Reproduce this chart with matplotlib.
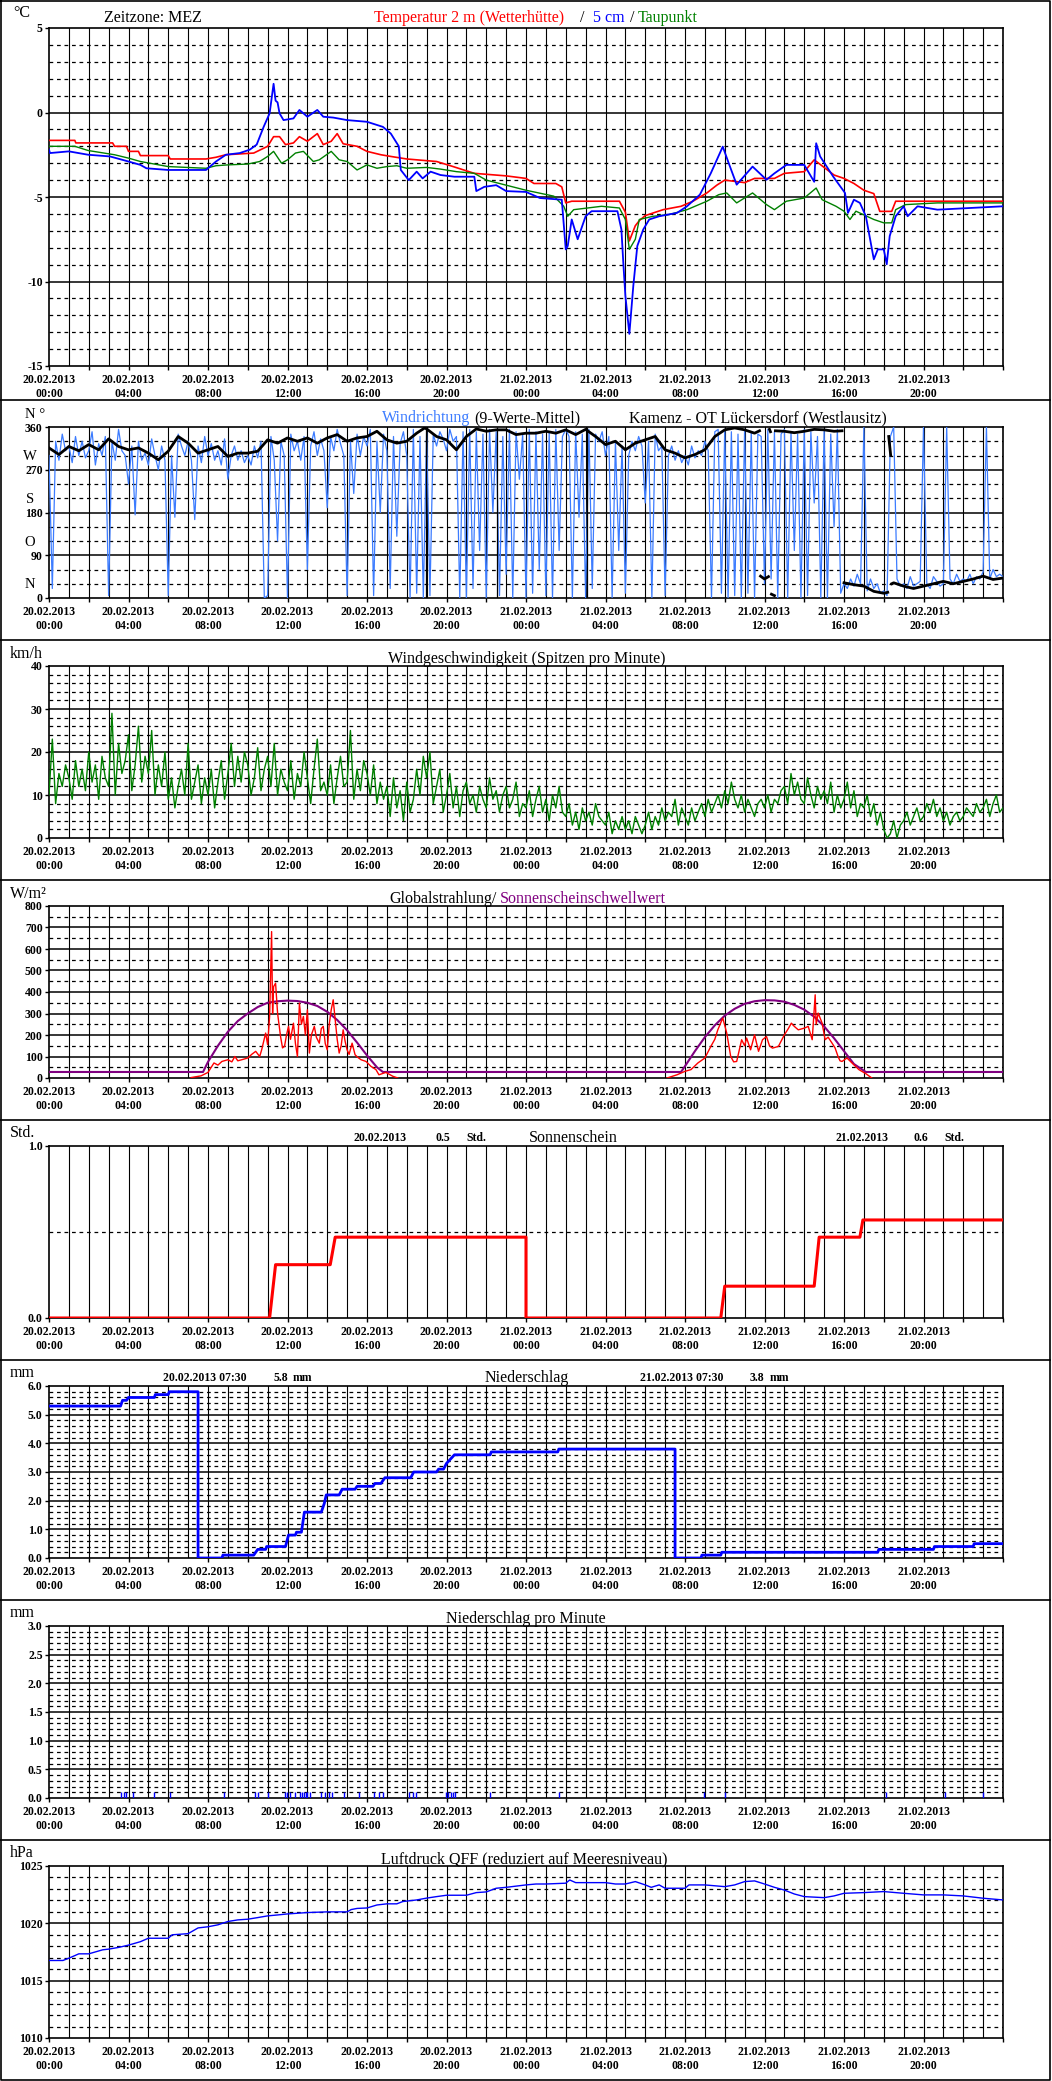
import numpy as np
import matplotlib
matplotlib.use('Agg')
import matplotlib.pyplot as plt
from matplotlib.lines import Line2D

plt.rcParams['font.family'] = ['Liberation Serif', 'DejaVu Serif']

# ---------------- data (hours since 20.02.2013 00:00) ----------------
date_labels = ['20.02.2013\n00:00', '20.02.2013\n04:00', '20.02.2013\n08:00',
               '20.02.2013\n12:00', '20.02.2013\n16:00', '20.02.2013\n20:00',
               '21.02.2013\n00:00', '21.02.2013\n04:00', '21.02.2013\n08:00',
               '21.02.2013\n12:00', '21.02.2013\n16:00', '21.02.2013\n20:00']
label_hours = [0, 4, 8, 12, 16, 20, 24, 28, 32, 36, 40, 44]

# temperature 2 m (hour, degC)
temp_2m = [(0, -1.65), (1.3, -1.65), (1.35, -1.8), (3.2, -1.8), (3.3, -2.0), (3.9, -2.0),
           (4.0, -2.3), (4.5, -2.3), (4.6, -2.55), (6.0, -2.55), (6.1, -2.75), (7.9, -2.75),
           (8.4, -2.65), (8.9, -2.5), (10.3, -2.4), (11.0, -2.0), (11.3, -1.43), (11.6, -1.43),
           (11.9, -1.9), (12.3, -1.8), (12.6, -1.43), (13.0, -1.7), (13.5, -1.25), (13.8, -1.9),
           (14.2, -1.7), (14.5, -1.25), (14.8, -1.85), (15.5, -2.0), (16.0, -2.3), (16.7, -2.5),
           (17.2, -2.6), (18.0, -2.75), (19.5, -2.9), (20.2, -3.15), (21.4, -3.6), (23.0, -3.75),
           (24.0, -3.9), (24.4, -4.2), (25.5, -4.2), (25.8, -4.4), (26.0, -5.35), (26.3, -5.25),
           (28.7, -5.25), (29.0, -5.9), (29.2, -7.6), (29.5, -6.7), (29.7, -6.4), (30.0, -6.1),
           (30.9, -5.75), (31.8, -5.55), (32.4, -5.25), (33.1, -4.76), (33.6, -4.3), (34.0, -4.0),
           (35.0, -4.15), (35.5, -3.9), (36.5, -3.9), (37.0, -3.6), (38.0, -3.5), (38.5, -2.8),
           (39.0, -3.25), (39.5, -3.7), (40.0, -3.9), (40.5, -4.2), (41.0, -4.6), (41.5, -4.8),
           (41.8, -5.85), (42.4, -5.85), (42.6, -5.25), (48.0, -5.25)]

# ground temperature 5 cm
temp_5cm = [(0, -2.2), (0.05, -2.4), (1.0, -2.3), (1.97, -2.5), (3.07, -2.6), (4.0, -2.9),
            (4.6, -3.1), (4.9, -3.3), (6.0, -3.4), (7.9, -3.4), (8.4, -2.9), (8.9, -2.5),
            (9.6, -2.4), (10.1, -2.2), (10.45, -1.9), (10.8, -0.85), (11.1, -0.05), (11.3, 1.7),
            (11.4, 0.7), (11.5, 0.6), (11.6, -0.05), (11.8, -0.45), (12.3, -0.35), (12.6, 0.15),
            (13.0, -0.25), (13.5, 0.15), (13.8, -0.25), (14.3, -0.3), (15.0, -0.45), (16.0, -0.55),
            (16.8, -0.85), (17.2, -1.25), (17.6, -2.0), (17.7, -3.4), (18.1, -4.0), (18.5, -3.5),
            (18.8, -3.9), (19.2, -3.5), (19.7, -3.7), (20.4, -3.8), (21.4, -3.8), (21.5, -4.65),
            (21.9, -4.4), (22.5, -4.3), (23.0, -4.65), (24.0, -4.7), (24.7, -5.06), (25.8, -5.16),
            (26.0, -8.1), (26.1, -7.9), (26.3, -6.33), (26.6, -7.5), (27.0, -6.14), (27.3, -5.84),
            (28.6, -5.84), (28.8, -6.92), (28.9, -8.98), (29.0, -10.84), (29.2, -13.1),
            (29.4, -10.25), (29.6, -7.9), (29.9, -6.92), (30.2, -6.33), (30.7, -6.14),
            (31.6, -5.94), (32.1, -5.55), (32.75, -4.86), (33.3, -3.59), (33.9, -2.02),
            (34.2, -3.0), (34.6, -4.27), (35.4, -3.2), (36.1, -3.98), (36.5, -3.6), (37.1, -3.1),
            (38.0, -3.1), (38.5, -4.1), (38.6, -1.82), (38.8, -2.6), (39.45, -3.78),
            (40.05, -4.76), (40.2, -5.94), (40.5, -5.16), (40.8, -5.35), (41.1, -6.14),
            (41.5, -8.69), (41.7, -8.1), (42.0, -8.1), (42.15, -8.98), (42.3, -7.31),
            (42.6, -6.14), (43.0, -5.55), (43.2, -6.14), (43.7, -5.55), (44.7, -5.75),
            (48.0, -5.55)]

# dew point
dew_point = [(0, -2.0), (1.3, -2.0), (1.97, -2.25), (3.3, -2.5), (4.0, -2.7), (4.6, -2.9),
             (6.0, -3.2), (7.9, -3.3), (8.4, -3.15), (9.0, -3.1), (10.0, -3.05), (10.6, -2.9),
             (11.0, -2.6), (11.3, -2.3), (11.7, -3.0), (12.0, -2.8), (12.4, -2.4), (12.8, -2.3),
             (13.3, -2.9), (13.6, -2.8), (14.2, -2.3), (14.6, -2.8), (15.0, -2.9), (15.5, -3.4),
             (16.0, -3.1), (16.5, -3.3), (17.0, -3.2), (17.5, -3.15), (18.0, -3.3), (19.0, -3.25),
             (19.7, -3.35), (20.5, -3.5), (21.4, -3.6), (22.0, -4.0), (23.0, -4.3), (24.0, -4.6),
             (25.4, -4.95), (25.9, -5.55), (26.1, -6.14), (26.4, -5.75), (27.1, -5.65),
             (27.8, -5.55), (28.7, -5.65), (29.0, -6.33), (29.2, -8.1), (29.5, -7.5),
             (29.7, -6.33), (30.4, -6.14), (31.2, -6.04), (32.1, -5.75), (33.1, -5.25),
             (33.7, -4.86), (34.1, -4.76), (34.6, -5.35), (35.4, -4.76), (36.1, -5.45),
             (36.5, -5.75), (37.1, -5.25), (38.0, -5.06), (38.6, -4.47), (38.9, -5.16),
             (39.6, -5.55), (40.0, -5.84), (40.3, -6.33), (40.6, -5.84), (41.5, -6.33),
             (42.0, -6.53), (42.4, -6.53), (42.6, -5.75), (43.1, -5.45), (44.7, -5.35),
             (48.0, -5.35)]

# wind direction, raw values every 10 minutes (one row per hour)
wind_dir_raw = [
    300, 20, 330, 290, 345, 310,
    320, 285, 340, 300, 330, 295,
    310, 350, 280, 325, 300, 340,
    5, 330, 290, 355, 310, 300,
    240, 320, 175, 330, 290, 305,
    280, 335, 300, 270, 320, 290,
    5, 300, 170, 345, 320, 300,
    330, 290, 165, 320, 285, 340,
    300, 325, 290, 310, 280, 335,
    250, 300, 320, 290, 310, 285,
    300, 280, 320, 295, 330, 0,
    5, 340, 290, 120, 330, 300,
    0, 345, 310, 330, 290, 340,
    60, 320, 350, 300, 335, 310,
    190, 340, 310, 355, 325, 300,
    5, 330, 220, 345, 300, 340,
    320, 355, 5, 330, 180, 345,
    310, 20, 340, 130, 325, 350,
    300, 0, 355, 10, 340, 0,
    350, 5, 345, 320, 350, 335,
    310, 355, 330, 340, 0, 350,
    0, 355, 20, 350, 100, 345,
    0, 355, 180, 350, 5, 340,
    50, 355, 0, 350, 250, 345,
    0, 355, 10, 350, 60, 345,
    5, 350, 0, 355, 100, 340,
    355, 340, 0, 350, 170, 345,
    0, 355, 20, 345, 330, 350,
    300, 340, 0, 330, 100, 320,
    10, 300, 330, 310, 340, 320,
    200, 330, 0, 345, 310, 320,
    5, 300, 320, 290, 310, 285,
    300, 280, 320, 295, 310, 300,
    330, 310, 0, 350, 355, 10,
    355, 0, 350, 5, 345, 0,
    355, 10, 350, 0, 345, 340,
    30, 355, 40, 350, 0, 345,
    355, 0, 350, 100, 345, 0,
    355, 5, 350, 200, 340, 0,
    355, 0, 345, 150, 355, 10,
    30, 20, 40, 25, 50, 30,
    360, 15, 40, 20, 30, 10,
    15, 5, 340, 360, 40, 25,
    30, 20, 45, 25, 30, 35,
    360, 30, 20, 45, 35, 25,
    30, 360, 40, 30, 50, 35,
    40, 35, 50, 30, 45, 40,
    55, 360, 40, 60, 45, 50,
    45]

# wind direction, 9-value mean (hour, deg); None = line break at a wrap through north
wind_dir_mean = [(0, 316), (0.5, 302), (1, 319), (1.5, 310), (2, 323), (2.5, 312), (3, 335),
                 (3.5, 319), (4, 312), (4.5, 316), (5, 305), (5.5, 291), (6, 309), (6.5, 340),
                 (7, 326), (7.5, 305), (8, 312), (8.5, 319), (9, 298), (9.5, 305), (10, 305),
                 (10.5, 309), (11, 333), (11.5, 326), (12, 337), (12.5, 330), (13, 337),
                 (13.5, 326), (14, 337), (14.5, 344), (15, 330), (15.5, 337), (16, 340),
                 (16.5, 351), (17, 333), (17.5, 326), (18, 330), (18.5, 347), (18.9, 358),
                 (19.0, 356), (19.5, 340), (20, 333), (20.5, 312), (21, 340),
                 (21.5, 356), (22, 351), (22.5, 354), (23, 354),
                 (23.5, 344), (24, 347), (24.5, 347), (25, 351), (25.5, 347), (26, 354),
                 (26.5, 344), (27, 355), (27.5, 340), (28, 323),
                 (28.5, 330), (29, 312), (29.5, 326), (30, 333), (30.5, 340), (31, 312),
                 (31.5, 305), (32, 295), (32.5, 302), (33, 312), (33.5, 340), (34, 354),
                 (34.5, 358), (35, 354), (35.5, 347), (35.75, 352), (35.77, None), (35.8, 46),
                 (36.0, 40), (36.2, 45), (36.22, None), (36.25, 355), (36.3, 350), (36.32, None),
                 (36.35, 8), (36.5, 5), (36.52, None), (36.55, 352),
                 (37, 351), (37.5, 348), (38, 351), (38.5, 355), (39, 354), (39.5, 351),
                 (39.9, 352), (39.95, None), (40.0, 32), (40.5, 28), (41, 25), (41.5, 14),
                 (42, 10), (42.2, 12), (42.22, None), (42.25, 340), (42.35, 300), (42.37, None),
                 (42.4, 30), (42.5, 32), (43, 25), (43.5, 20), (44, 25), (44.5, 30), (45, 35),
                 (45.5, 30), (46, 35), (46.5, 40), (47, 46), (47.5, 39), (48, 42)]
wind_dir_wraps = [18.95, 22.55, 27.05]

# wind gusts km/h every 10 minutes (one row per hour)
wind_speed = [
    10, 23, 8, 15, 12, 17,
    14, 9, 18, 12, 16, 11,
    20, 13, 17, 9, 19, 14,
    12, 29, 10, 22, 15, 18,
    24, 11, 17, 26, 13, 19,
    15, 25, 10, 17, 12, 20,
    9, 14, 7, 12, 16, 10,
    22, 9, 13, 17, 8, 14,
    10, 16, 7, 13, 18, 9,
    15, 22, 12, 19, 13, 20,
    17, 10, 14, 21, 11, 16,
    19, 12, 22, 10, 16, 13,
    11, 18, 9, 15, 12, 20,
    14, 8, 16, 23, 11, 13,
    10, 17, 8, 14, 19, 12,
    13, 25, 9, 16, 11, 18,
    15, 10, 17, 8, 13, 9,
    12, 5, 14, 7, 11, 4,
    13, 6, 9, 16, 10, 19,
    14, 20, 8, 12, 16, 6,
    10, 15, 7, 12, 5, 11,
    13, 8, 10, 6, 12, 9,
    7, 14, 9, 11, 6, 10,
    12, 7, 9, 13, 5, 8,
    7, 11, 5, 9, 12, 6,
    9, 4, 10, 7, 12, 6,
    5, 8, 3, 6, 2, 7,
    4, 6, 3, 8, 5, 4,
    3, 6, 1, 4, 2, 5,
    2, 4, 1, 5, 3, 1,
    3, 6, 2, 5, 3, 7,
    4, 6, 5, 9, 3, 7,
    5, 3, 7, 4, 6, 8,
    5, 9, 6, 8, 10, 7,
    11, 8, 13, 9, 7, 10,
    6, 9, 7, 5, 8, 9,
    7, 10, 6, 9, 8, 11,
    12, 8, 15, 10, 13, 9,
    8, 14, 10, 7, 12, 9,
    11, 8, 13, 6, 10, 7,
    9, 13, 7, 11, 5, 8,
    7, 10, 5, 8, 3, 6,
    2, 0, 1, 4, 0, 3,
    4, 6, 3, 5, 7, 4,
    5, 8, 6, 9, 5, 7,
    4, 6, 3, 5, 6, 4,
    5, 7, 6, 5, 8, 6,
    7, 9, 5, 8, 10, 6,
    7]

# global radiation W/m2, daylight segments
radiation_day1 = [(7.15, 2), (7.65, 10), (8.0, 26), (8.3, 70), (8.5, 60), (8.7, 77), (9.0, 85),
                  (9.2, 75), (9.35, 100), (9.5, 80), (9.7, 85), (10.0, 93), (10.2, 110),
                  (10.4, 124), (10.6, 100), (10.7, 131), (10.9, 209), (11.0, 155), (11.1, 286),
                  (11.2, 681), (11.25, 300), (11.3, 425), (11.4, 441), (11.5, 302), (11.65, 193),
                  (11.75, 140), (11.85, 147), (11.95, 200), (12.05, 240), (12.15, 180),
                  (12.3, 255), (12.4, 160), (12.5, 100), (12.6, 348), (12.7, 250), (12.8, 286),
                  (12.9, 200), (13.0, 317), (13.1, 116), (13.2, 200), (13.35, 240), (13.45, 190),
                  (13.6, 162), (13.7, 230), (13.8, 240), (13.9, 160), (14.0, 131), (14.1, 250),
                  (14.2, 317), (14.3, 364), (14.4, 271), (14.5, 180), (14.6, 116), (14.7, 150),
                  (14.8, 224), (14.9, 170), (15.0, 131), (15.1, 110), (15.25, 162), (15.4, 108),
                  (15.55, 95), (15.7, 85), (15.95, 77), (16.2, 54), (16.45, 39), (16.6, 15),
                  (16.95, 26), (17.3, 8), (17.55, 0)]
radiation_day2 = [(31.1, 0), (31.6, 15), (32.0, 31), (32.3, 39), (32.65, 70), (33.0, 93),
                  (33.3, 147), (33.5, 180), (33.65, 224), (33.9, 279), (34.1, 209), (34.3, 100),
                  (34.45, 75), (34.6, 77), (34.85, 178), (35.0, 150), (35.1, 186), (35.3, 131),
                  (35.5, 201), (35.7, 124), (35.9, 178), (36.1, 193), (36.25, 150), (36.4, 139),
                  (36.7, 147), (37.0, 201), (37.2, 230), (37.35, 255), (37.5, 240), (37.7, 224),
                  (38.0, 232), (38.2, 240), (38.4, 178), (38.55, 387), (38.6, 250), (38.7, 302),
                  (38.9, 255), (39.05, 178), (39.2, 190), (39.4, 162), (39.55, 140), (39.7, 100),
                  (39.8, 80), (39.9, 77), (40.15, 93), (40.4, 70), (40.75, 39), (41.1, 20),
                  (41.4, 0)]
# sunshine threshold W/m2
sun_threshold = [(0, 28), (7.75, 28), (8.0, 75), (8.5, 150), (9.0, 215), (9.5, 265), (10.0, 300),
                 (10.5, 330), (11.0, 350), (11.5, 357), (12.0, 360), (12.5, 358), (13.0, 350),
                 (13.5, 335), (14.0, 308), (14.5, 270), (15.0, 222), (15.5, 165), (16.0, 105),
                 (16.5, 50), (16.8, 28), (31.8, 28), (32.0, 55), (32.5, 125), (33.0, 190),
                 (33.5, 245), (34.0, 290), (34.5, 322), (35.0, 345), (35.5, 357), (36.0, 362),
                 (36.5, 361), (37.0, 355), (37.5, 340), (38.0, 318), (38.5, 285), (39.0, 240),
                 (39.5, 185), (40.0, 125), (40.5, 65), (41.1, 28), (48, 28)]

# sunshine duration (cumulative hours)
sunshine = [(0, 0), (11.1, 0), (11.4, 0.31), (14.15, 0.31), (14.4, 0.47), (24.0, 0.47),
            (24.0, 0), (33.8, 0), (34.0, 0.185), (38.5, 0.185), (38.75, 0.47), (40.8, 0.47),
            (40.95, 0.57), (48, 0.57)]

# precipitation cumulative mm (day resets 07:30)
precip_sum = [(0, 5.3), (3.6, 5.3), (3.7, 5.5), (3.9, 5.5), (4.0, 5.6), (5.3, 5.6), (5.35, 5.7),
              (6.0, 5.7), (6.05, 5.8), (7.5, 5.8), (7.5, 0.0), (8.7, 0.0), (8.75, 0.1),
              (10.3, 0.1), (10.5, 0.3), (10.9, 0.3), (10.95, 0.4), (11.9, 0.4), (12.05, 0.8),
              (12.4, 0.8), (12.45, 0.9), (12.7, 0.9), (12.85, 1.6), (13.7, 1.6), (13.85, 1.9),
              (13.95, 2.2), (14.6, 2.2), (14.75, 2.4), (15.4, 2.4), (15.5, 2.5), (16.3, 2.5),
              (16.4, 2.6), (16.7, 2.6), (16.9, 2.8), (18.2, 2.8), (18.35, 3.0), (19.5, 3.0),
              (19.6, 3.1), (19.85, 3.1), (20.0, 3.3), (20.4, 3.6), (22.2, 3.6), (22.25, 3.7),
              (25.6, 3.7), (25.65, 3.8), (31.5, 3.8), (31.5, 0.0), (32.8, 0.0), (32.85, 0.1),
              (33.8, 0.1), (33.85, 0.2), (41.7, 0.2), (41.75, 0.3), (44.5, 0.3), (44.55, 0.4),
              (46.5, 0.4), (46.55, 0.5), (48, 0.5)]

# precipitation per minute
precip_min_hours = [3.61, 3.75, 3.88, 4.22, 5.30, 6.08, 8.78, 10.36, 10.53, 11.04, 11.88, 11.99,
                    12.12, 12.39, 12.63, 12.73, 12.83, 12.93, 13.0, 13.13, 13.67, 13.88, 14.08,
                    14.25, 14.85, 15.6, 16.34, 16.61, 16.78, 18.13, 18.3, 18.47, 19.99, 20.09,
                    20.22, 20.32, 20.43, 22.18, 25.66, 32.98, 34.0, 42.1, 45.07, 47.0]
precip_min_vals = [0.1] * len(precip_min_hours)

# pressure QFF hPa
pressure = [(0, 1016.76), (0.7, 1016.76), (1.0, 1016.96), (1.5, 1017.34), (2.0, 1017.34),
            (2.7, 1017.69), (3.0, 1017.75), (3.5, 1017.9), (4.0, 1018.1), (4.6, 1018.4),
            (5.0, 1018.7), (6.0, 1018.7), (6.2, 1019.0), (7.0, 1019.1), (7.5, 1019.6),
            (8.0, 1019.7), (8.5, 1019.87), (9.0, 1020.16), (9.5, 1020.3), (10.0, 1020.36),
            (10.5, 1020.5), (11.0, 1020.65), (11.5, 1020.73), (12.0, 1020.82), (13.0, 1020.94),
            (14.0, 1021.0), (15.0, 1021.0), (15.2, 1021.2), (15.5, 1021.3), (16.0, 1021.34),
            (16.5, 1021.6), (17.0, 1021.7), (17.5, 1021.7), (17.8, 1021.9), (18.5, 1022.04),
            (19.0, 1022.2), (19.5, 1022.33), (20.0, 1022.45), (21.0, 1022.45), (21.5, 1022.68),
            (22.0, 1022.74), (22.5, 1023.06), (23.0, 1023.14), (24.0, 1023.35), (24.5, 1023.43),
            (25.0, 1023.43), (26.0, 1023.5), (26.2, 1023.78), (26.5, 1023.55), (27.0, 1023.55),
            (28.0, 1023.55), (28.5, 1023.43), (29.0, 1023.43), (29.5, 1023.64), (30.0, 1023.35),
            (30.3, 1023.14), (30.7, 1023.35), (31.0, 1023.06), (32.0, 1023.06), (32.2, 1023.35),
            (33.0, 1023.35), (34.0, 1023.2), (34.5, 1023.35), (35.0, 1023.64), (35.5, 1023.7),
            (36.0, 1023.43), (36.5, 1023.14), (37.0, 1022.9), (37.5, 1022.56), (38.0, 1022.33),
            (39.0, 1022.24), (39.5, 1022.39), (40.0, 1022.62), (41.0, 1022.68), (42.0, 1022.77),
            (43.0, 1022.62), (44.0, 1022.48), (45.0, 1022.48), (46.0, 1022.39), (47.0, 1022.19),
            (48.0, 1022.04)]

RED = '#FF0000'
BLUE = '#0000FF'
GREEN = '#008000'
LBLUE = '#3C7CFF'
PURPLE = '#800080'

# ---------------- figure ----------------
W, H = 1052, 2081
fig = plt.figure(figsize=(W / 100, H / 100), dpi=100)
TS = 11.5


def px_axes(top, bottom):
    return fig.add_axes([49 / W, 1 - bottom / H, 954 / W, (bottom - top) / H])


def ftext(x, y, s, **kw):
    kw.setdefault('va', 'center')
    kw.setdefault('ha', 'left')
    kw.setdefault('fontsize', TS)
    fig.text(x / W, 1 - y / H, s, **kw)


def setup(ax, ymin, ymax, major, minor, ylabels):
    ax.set_xlim(0, 48)
    ax.set_ylim(ymin, ymax)
    for h in range(1, 48):
        ax.axvline(h, color='black', lw=0.8, zorder=1)
    nmin = int(round((ymax - ymin) / minor))
    step = int(round(major / minor))
    for i in range(1, nmin):
        if i % step:
            ax.axhline(ymin + i * minor, color='black', lw=0.9, ls=(0, (3, 3)), zorder=1)
    yt = [ymin + i * major for i in range(int(round((ymax - ymin) / major)) + 1)]
    for v in yt[1:-1]:
        ax.axhline(v, color='black', lw=1.1, zorder=1)
    ax.set_yticks(yt, ylabels, fontsize=8.5, fontweight='bold')
    ax.set_xticks(label_hours, date_labels, fontsize=8.5, fontweight='bold', linespacing=1.25)
    ax.set_xticks(np.arange(0, 49, 2), minor=True)
    ax.tick_params(axis='x', which='both', length=3, width=1, pad=2.5)
    ax.tick_params(axis='y', length=3, width=1, pad=1.5)
    for s in ax.spines.values():
        s.set_linewidth(1.2)


def xy(pairs):
    a = np.array(pairs, dtype=float)
    return a[:, 0], a[:, 1]


# frame and separators
for y in [400, 640, 880, 1120, 1360, 1600, 1840]:
    fig.add_artist(Line2D([0, 1050 / W], [1 - y / H] * 2, transform=fig.transFigure,
                          color='black', lw=1.2))
fig.add_artist(Line2D([0.5 / W, 1050 / W, 1050 / W, 0.5 / W, 0.5 / W],
                      [1 - 0.5 / H, 1 - 0.5 / H, 1 - 2079.5 / H, 1 - 2079.5 / H, 1 - 0.5 / H],
                      transform=fig.transFigure, color='black', lw=1.2))

# ---- panel 1: temperatures
ax = px_axes(28, 366)
setup(ax, -15, 5, 5, 1, ['-15', '-10', '-5', '0', '5'])
ax.plot(*xy(temp_2m), color=RED, lw=1.2, zorder=3)
ax.plot(*xy(dew_point), color=GREEN, lw=1.0, zorder=3)
ax.plot(*xy(temp_5cm), color=BLUE, lw=1.3, zorder=4)
ftext(13, 13, '°C')
ftext(104, 18, 'Zeitzone: MEZ')
ftext(374, 18, 'Temperatur 2 m (Wetterhütte)', color=RED)
ftext(580, 18, '/')
ftext(593, 18, '5 cm', color=BLUE)
ftext(630, 18, '/')
ftext(638, 18, 'Taupunkt', color=GREEN)

# ---- panel 2: wind direction
ax = px_axes(427, 598)
setup(ax, 0, 360, 90, 30, ['0', '90', '180', '270', '360'])
ax.plot(np.arange(len(wind_dir_raw)) / 6, wind_dir_raw, color=LBLUE, lw=0.9, zorder=3)
ax.vlines(wind_dir_wraps, 0, 360, color='black', lw=0.9, zorder=4)
ax.plot(*xy(wind_dir_mean), color='black', lw=2.0, zorder=4)
for val, letter in [(0, 'N'), (90, 'O'), (180, 'S'), (270, 'W')]:
    ax.annotate(letter, xy=(0, val), xycoords=('axes fraction', 'data'), xytext=(-19, 13),
                textcoords='offset pixels', ha='center', va='center', fontsize=10.5,
                annotation_clip=False)
ftext(25, 414, 'N °', fontsize=10.5)
ftext(382, 418, 'Windrichtung', color=LBLUE)
ftext(474, 418, '(9-Werte-Mittel)')
ftext(629, 418, 'Kamenz - OT Lückersdorf (Westlausitz)')

# ---- panel 3: wind speed
ax = px_axes(666, 838)
setup(ax, 0, 40, 10, 2, ['0', '10', '20', '30', '40'])
ax.plot(np.arange(len(wind_speed)) / 6, wind_speed, color=GREEN, lw=1.0, zorder=3)
ftext(10, 654, 'km/h')
ftext(388, 659, 'Windgeschwindigkeit (Spitzen pro Minute)')

# ---- panel 4: radiation
ax = px_axes(906, 1078)
setup(ax, 0, 800, 100, 50, ['0', '100', '200', '300', '400', '500', '600', '700', '800'])
ax.plot(*xy(sun_threshold), color=PURPLE, lw=1.5, zorder=3)
ax.plot(*xy(radiation_day1), color=RED, lw=1.0, zorder=4)
ax.plot(*xy(radiation_day2), color=RED, lw=1.0, zorder=4)
ftext(10, 894, 'W/m²')
ftext(389, 899, 'Globalstrahlung/')
ftext(500, 899, 'Sonnenscheinschwellwert', color=PURPLE)

# ---- panel 5: sunshine
ax = px_axes(1146, 1318)
setup(ax, 0, 1.0, 1.0, 0.5, ['0.0', '1.0'])
ax.plot(*xy(sunshine), color=RED, lw=2.2, zorder=3)
ftext(10, 1133, 'Std.')
small = dict(fontsize=8.5, fontweight='bold')
ftext(354, 1138, '20.02.2013', **small)
ftext(436, 1138, '0.5', **small)
ftext(466, 1138, 'Std.', **small)
ftext(529, 1138, 'Sonnenschein')
ftext(835, 1138, '21.02.2013', **small)
ftext(914, 1138, '0.6', **small)
ftext(944, 1138, 'Std.', **small)

# ---- panel 6: precipitation sum
ax = px_axes(1386, 1558)
setup(ax, 0, 6.0, 1.0, 0.2, ['0.0', '1.0', '2.0', '3.0', '4.0', '5.0', '6.0'])
ax.plot(*xy(precip_sum), color=BLUE, lw=2.0, zorder=3)
ftext(10, 1373, 'mm')
ftext(163, 1378, '20.02.2013 07:30', **small)
ftext(274, 1378, '5.8', **small)
ftext(293, 1378, 'mm', **small)
ftext(485, 1378, 'Niederschlag')
ftext(640, 1378, '21.02.2013 07:30', **small)
ftext(750, 1378, '3.8', **small)
ftext(770, 1378, 'mm', **small)

# ---- panel 7: precipitation per minute
ax = px_axes(1626, 1798)
setup(ax, 0, 3.0, 0.5, 0.1, ['0.0', '0.5', '1.0', '1.5', '2.0', '2.5', '3.0'])
ax.vlines(precip_min_hours, 0, precip_min_vals, color=BLUE, lw=1.0, zorder=3)
ftext(10, 1613, 'mm')
ftext(446, 1619, 'Niederschlag pro Minute')

# ---- panel 8: pressure
ax = px_axes(1866, 2038)
setup(ax, 1010, 1025, 5, 1, ['1010', '1015', '1020', '1025'])
ax.plot(*xy(pressure), color=BLUE, lw=1.0, zorder=3)
ftext(10, 1853, 'hPa')
ftext(381, 1859, 'Luftdruck QFF (reduziert auf Meeresniveau)')

fig.savefig('out.png', dpi=100)
